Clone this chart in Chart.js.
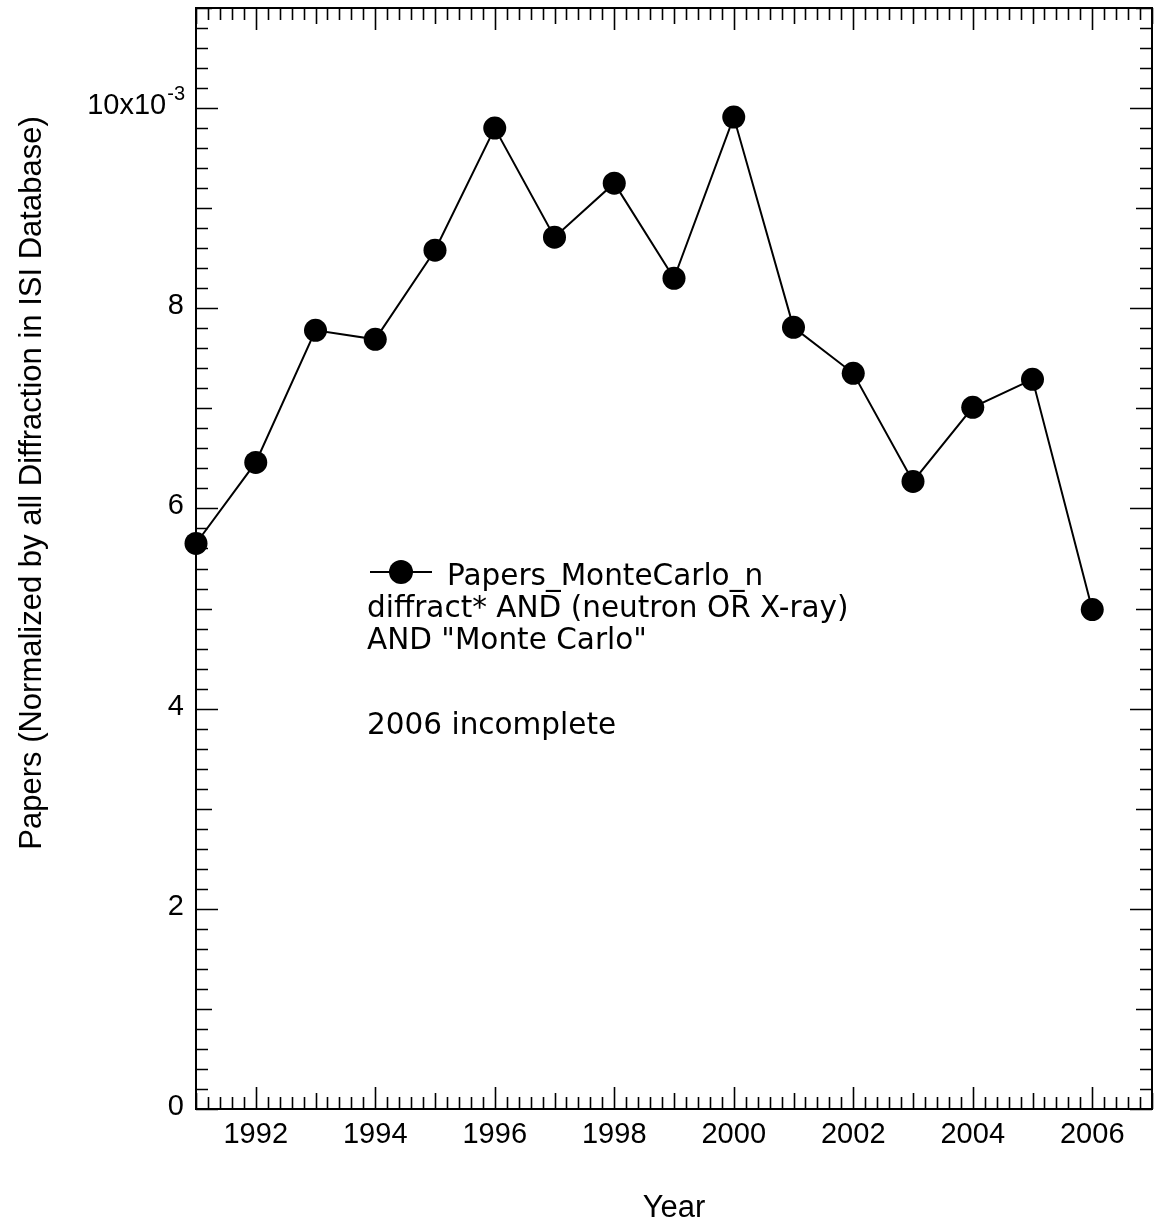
<!DOCTYPE html>
<html>
<head>
<meta charset="utf-8">
<script src="https://cdn.jsdelivr.net/npm/chart.js@4/dist/chart.umd.min.js"></script>
<style>
  html, body { margin: 0; padding: 0; background: #fff; }
  #chart { display: block; }
</style>
</head>
<body>
<canvas id="chart" width="1158" height="1221"></canvas>
<script>
// Data (papers in units of 10^-3, normalized by all diffraction papers)
const years = [1991, 1992, 1993, 1994, 1995, 1996, 1997, 1998, 1999, 2000, 2001, 2002, 2003, 2004, 2005, 2006];
const papers = [5.65, 6.46, 7.78, 7.69, 8.58, 9.80, 8.71, 9.25, 8.30, 9.91, 7.81, 7.35, 6.27, 7.01, 7.29, 4.99];

// Tick labels
const xTickValues = [1992, 1994, 1996, 1998, 2000, 2002, 2004, 2006];
const yTickValues = [0, 2, 4, 6, 8, 10];
const yTickLabels = ['0', '2', '4', '6', '8', '10x10'];
const yTickExponent = '-3';

// Texts
const seriesName = 'Papers_MonteCarlo_n';
const legendLines = ['diffract* AND (neutron OR X-ray)', 'AND "Monte Carlo"', '2006 incomplete'];
const xTitle = 'Year';
const yTitle = 'Papers (Normalized by all Diffraction in ISI Database)';

const TICK_FONT = '29px "Liberation Sans", Arial, sans-serif';
const TITLE_FONT = '31px "Liberation Sans", Arial, sans-serif';
const LEGEND_FONT = '29.5px "DejaVu Sans", sans-serif';

/**
 * Frame with inward ticks on all four sides (Igor-style)
 */
const framePlugin = {
    id: 'frame',
    beforeDatasetsDraw(chart) {
        const { ctx, chartArea: a, scales: { x, y } } = chart;
        ctx.save();
        ctx.strokeStyle = '#000';
        ctx.lineWidth = 1.6;
        ctx.beginPath();
        // x ticks every 0.2 year
        for (let k = 0; k <= 80; k++) {
            const v = x.min + k / 5;
            if (v > x.max + 1e-9) break;
            const yr = Math.round(v);
            const len = k % 5 ? 12 : (yr % 2 === 0 ? 22 : 16);
            const px = Math.round(x.getPixelForValue(v)) + 0.5;
            ctx.moveTo(px, a.bottom); ctx.lineTo(px, a.bottom - len);
            ctx.moveTo(px, a.top); ctx.lineTo(px, a.top + len);
        }
        // y ticks every 0.2
        for (let k = 0; k <= 55; k++) {
            const v = k / 5;
            const len = k % 5 ? 12 : ((k / 5) % 2 === 0 ? 22 : 16);
            const py = Math.round(y.getPixelForValue(v)) + 0.5;
            ctx.moveTo(a.left, py); ctx.lineTo(a.left + len, py);
            ctx.moveTo(a.right, py); ctx.lineTo(a.right - len, py);
        }
        ctx.stroke();
        ctx.lineWidth = 2;
        ctx.strokeRect(a.left, a.top, a.right - a.left, a.bottom - a.top);
        ctx.restore();
    },
    afterDraw(chart) {
        const { ctx, chartArea: a, scales: { x, y } } = chart;
        ctx.save();
        ctx.fillStyle = '#000';

        // x tick labels
        ctx.font = TICK_FONT;
        ctx.textAlign = 'center';
        ctx.textBaseline = 'alphabetic';
        xTickValues.forEach(v => ctx.fillText(String(v), x.getPixelForValue(v), a.bottom + 34));

        // y tick labels
        ctx.textAlign = 'right';
        ctx.textBaseline = 'middle';
        yTickValues.forEach((v, i) => {
            const py = y.getPixelForValue(v) - 2;
            if (i === yTickValues.length - 1) {
                ctx.font = '20px "Liberation Sans", Arial, sans-serif';
                const expW = ctx.measureText(yTickExponent).width;
                ctx.fillText(yTickExponent, a.left - 11, py - 12);
                ctx.font = TICK_FONT;
                ctx.fillText(yTickLabels[i], a.left - 12 - expW, py);
            } else {
                ctx.font = TICK_FONT;
                ctx.fillText(yTickLabels[i], a.left - 12, py);
            }
        });

        // axis titles
        ctx.font = TITLE_FONT;
        ctx.textAlign = 'center';
        ctx.textBaseline = 'alphabetic';
        ctx.fillText(xTitle, (a.left + a.right) / 2, 1217);
        ctx.translate(41, 483);
        ctx.rotate(-Math.PI / 2);
        ctx.fillText(yTitle, 0, 0);
        ctx.restore();

        // legend / annotation
        ctx.save();
        ctx.strokeStyle = '#000';
        ctx.fillStyle = '#000';
        ctx.lineWidth = 2;
        ctx.beginPath();
        ctx.moveTo(370, 572); ctx.lineTo(432, 572);
        ctx.stroke();
        ctx.beginPath();
        ctx.arc(401, 572, 12, 0, Math.PI * 2);
        ctx.fill();
        ctx.font = LEGEND_FONT;
        ctx.textAlign = 'left';
        ctx.textBaseline = 'alphabetic';
        ctx.fillText(seriesName, 447, 585);
        ctx.fillText(legendLines[0], 367, 617);
        ctx.fillText(legendLines[1], 367, 649);
        ctx.fillText(legendLines[2], 367, 734);
        ctx.restore();
    }
};

const data = years.map((yr, i) => ({ x: yr, y: papers[i] }));

new Chart(document.getElementById('chart'), {
    type: 'line',
    data: {
        datasets: [{
            label: seriesName,
            data: data,
            borderColor: '#000',
            borderWidth: 2,
            backgroundColor: '#000',
            pointBackgroundColor: '#000',
            pointBorderColor: '#000',
            pointBorderWidth: 0,
            pointRadius: 11.5,
            tension: 0,
            clip: false
        }]
    },
    options: {
        responsive: false,
        animation: false,
        layout: { autoPadding: false, padding: { left: 196, top: 8, right: 6, bottom: 112 } },
        plugins: {
            legend: { display: false },
            tooltip: { enabled: false }
        },
        scales: {
            x: { type: 'linear', min: 1991, max: 2007, display: false },
            y: { type: 'linear', min: 0, max: 11, display: false }
        }
    },
    plugins: [framePlugin]
});
</script>
</body>
</html>
